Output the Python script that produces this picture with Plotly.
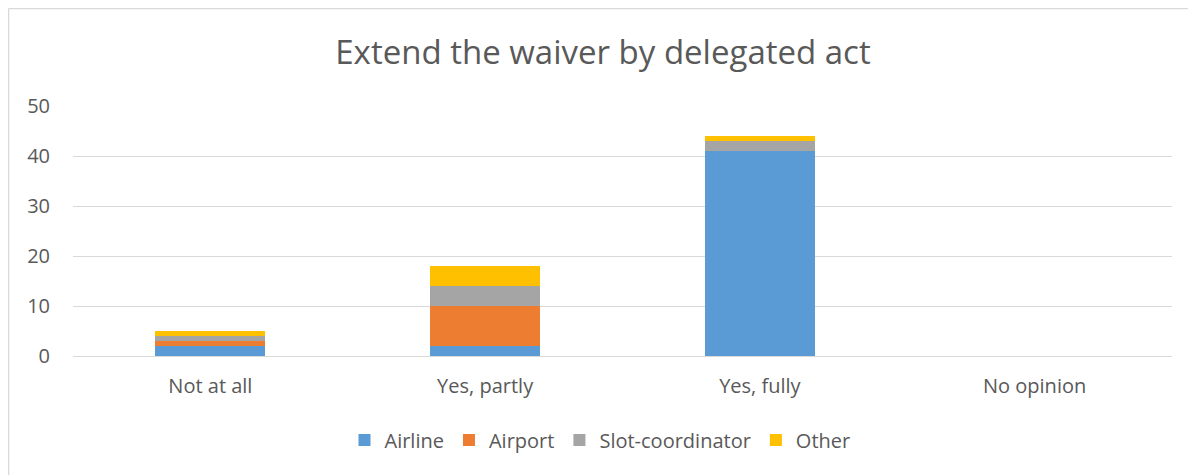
import plotly.graph_objects as go

categories = ["Not at all", "Yes, partly", "Yes, fully", "No opinion"]
airline = [2, 2, 41, 0]
airport = [1, 8, 0, 0]
slot_coordinator = [1, 4, 2, 0]
other = [1, 4, 1, 0]

series = [
    ("Airline", airline, "#5B9BD5"),
    ("Airport", airport, "#ED7D31"),
    ("Slot-coordinator", slot_coordinator, "#A5A5A5"),
    ("Other", other, "#FFC000"),
]

# page is rendered with an 8px body offset; figure coords = page coords - 8
OFF = 8
W, H = 1196 - OFF, 475 - OFF
L, T = 73 - OFF, 106 - OFF
R = 24
pw = W - L - R
ph = 250
B = H - T - ph
y0px = T + ph  # figure pixel of value 0


def py(page_y):
    return (y0px - (page_y - OFF)) / ph


def px(page_x):
    return ((page_x - OFF) - L) / pw


fig = go.Figure()
for name, vals, col in series:
    fig.add_trace(go.Bar(x=categories, y=vals, name=name, marker_color=col,
                         marker_line_width=0))

font = "Open Sans, Liberation Sans, sans-serif"
fig.update_layout(
    width=W, height=H,
    barmode="stack", bargap=0.6,
    margin=dict(l=L, r=R, t=T, b=B),
    plot_bgcolor="white", paper_bgcolor="white",
    font=dict(family=font, color="#595959", size=20),
    title=dict(text="Extend the waiver by delegated act",
               x=(603 - OFF) / W, xanchor="center",
               y=1 - (52 - OFF) / H, yanchor="middle",
               font=dict(size=33, color="#595959", family=font)),
    xaxis=dict(showgrid=False, showline=False, ticks="", ticklabelstandoff=16,
               tickfont=dict(size=20, color="#595959")),
    yaxis=dict(range=[0, 50], dtick=10, showgrid=True, gridcolor="#D9D9D9", gridwidth=1,
               zeroline=True, zerolinecolor="#D9D9D9", zerolinewidth=1,
               showline=False, ticks="", ticklabelstandoff=22,
               tickfont=dict(size=20, color="#595959")),
    legend=dict(orientation="h", x=px(600), xanchor="center",
                y=py(440), yanchor="middle",
                font=dict(size=20, color="#595959"), itemwidth=30,
                traceorder="normal"),
    shapes=[
        dict(type="line", xref="paper", yref="paper",
             x0=px(8.5), x1=px(8.5), y0=py(8.5), y1=py(490),
             line=dict(color="#D9D9D9", width=1.5)),
        dict(type="line", xref="paper", yref="paper",
             x0=px(8.5), x1=px(1220), y0=py(8.5), y1=py(8.5),
             line=dict(color="#D9D9D9", width=1.5)),
    ],
)

fig.write_html("out.html")
